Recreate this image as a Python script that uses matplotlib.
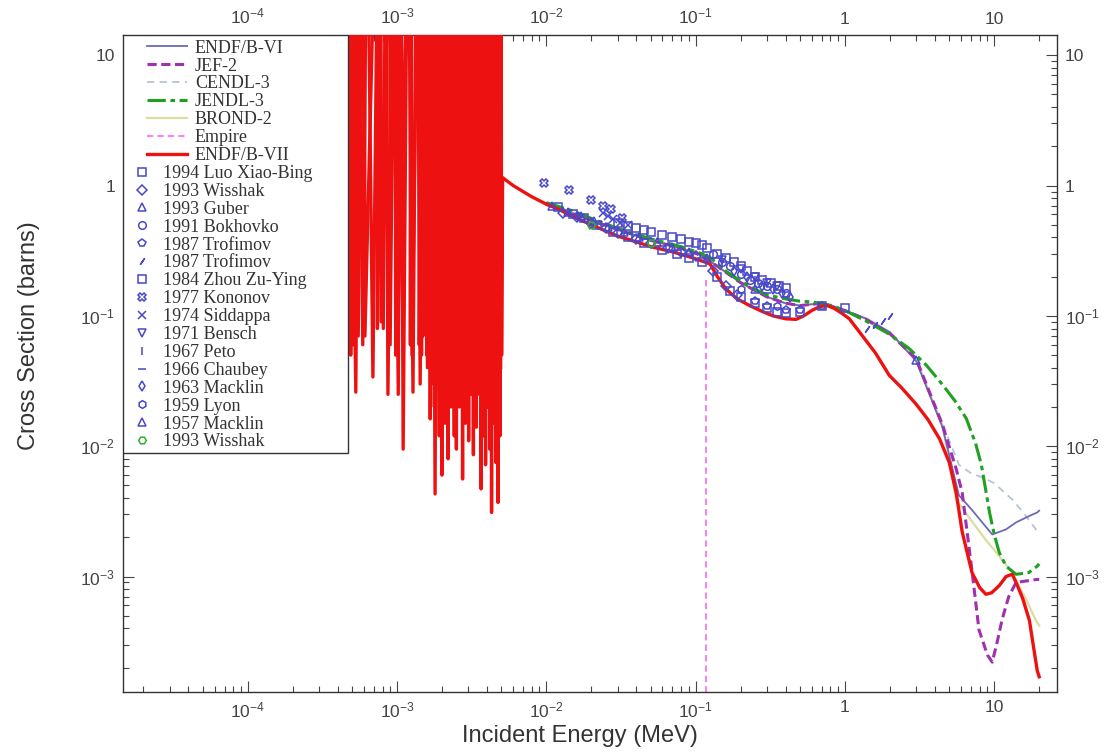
# libraries
import numpy as np
import matplotlib
matplotlib.use('Agg')
import matplotlib.pyplot as plt
from matplotlib.ticker import FixedLocator, LogLocator, FuncFormatter, NullFormatter
from matplotlib.patches import Rectangle

plt.rcParams['font.family'] = ['Liberation Sans', 'DejaVu Sans']
plt.rcParams['mathtext.fontset'] = 'custom'
plt.rcParams['mathtext.rm'] = 'Liberation Sans'
plt.rcParams['mathtext.it'] = 'Liberation Sans:italic'
plt.rcParams['mathtext.bf'] = 'Liberation Sans:bold'

# ---- evaluated data (MeV, barns) ----
# ENDF/B-VII resonance region: peak energies, following minimum energy and value
res_peak_E = [4.75e-4, 5.6e-4, 6.3e-4, 7.5e-4, 8.4e-4, 9.4e-4, 1.06e-3, 1.18e-3, 1.36e-3,
              1.52e-3, 1.64e-3, 1.72e-3, 1.86e-3, 1.96e-3, 2.05e-3, 2.15e-3, 2.25e-3,
              2.35e-3, 2.47e-3, 2.56e-3, 2.68e-3, 2.82e-3, 2.95e-3, 3.08e-3, 3.20e-3,
              3.32e-3, 3.46e-3, 3.58e-3, 3.74e-3, 3.86e-3, 3.98e-3, 4.12e-3, 4.24e-3,
              4.38e-3, 4.52e-3, 4.68e-3, 4.82e-3, 4.98e-3]
res_min_E = [5.3e-4, 5.9e-4, 6.9e-4, 8.1e-4, 8.7e-4, 1.02e-3, 1.10e-3, 1.28e-3, 1.43e-3,
             1.60e-3, 1.67e-3, 1.80e-3, 1.92e-3, 2.00e-3, 2.10e-3, 2.20e-3, 2.30e-3,
             2.42e-3, 2.50e-3, 2.62e-3, 2.75e-3, 2.88e-3, 3.02e-3, 3.15e-3, 3.25e-3,
             3.40e-3, 3.52e-3, 3.66e-3, 3.80e-3, 3.92e-3, 4.05e-3, 4.18e-3, 4.30e-3,
             4.45e-3, 4.60e-3, 4.75e-3, 4.90e-3, 5.02e-3]
res_min_xs = [0.026, 0.060, 0.034, 0.080, 0.025, 0.025, 0.0095, 0.026, 0.030,
              0.040, 0.0162, 0.0043, 0.012, 0.0060, 0.015, 0.0080, 0.020,
              0.012, 0.0095, 0.020, 0.0056, 0.015, 0.011, 0.025, 0.0086,
              0.014, 0.030, 0.0047, 0.012, 0.0072, 0.020, 0.0095, 0.0031,
              0.015, 0.0075, 0.0037, 0.012, 0.050]
# weaker resonances lying between the ones above
res2_peak_E = [4.85e-4, 5.05e-4, 5.45e-4, 6.05e-4, 7.3e-4, 7.8e-4, 8.95e-4, 9.7e-4,
               1.0e-3, 1.22e-3, 1.25e-3, 1.40e-3, 1.45e-3, 1.48e-3,
               1.56e-3, 1.69e-3, 1.77e-3, 1.83e-3, 1.89e-3, 2.02e-3, 2.12e-3, 2.18e-3,
               2.28e-3, 2.32e-3, 2.39e-3, 2.44e-3, 2.52e-3, 2.59e-3, 2.64e-3, 2.72e-3,
               2.78e-3, 2.85e-3, 2.91e-3, 2.99e-3, 3.05e-3, 3.12e-3, 3.17e-3, 3.23e-3,
               3.28e-3, 3.36e-3, 3.43e-3, 3.50e-3, 3.55e-3, 3.62e-3, 3.70e-3, 3.77e-3,
               3.83e-3, 3.89e-3, 3.95e-3, 4.02e-3, 4.08e-3, 4.15e-3, 4.21e-3, 4.27e-3,
               4.34e-3, 4.41e-3, 4.48e-3, 4.56e-3, 4.64e-3, 4.71e-3, 4.79e-3, 4.86e-3,
               4.94e-3]
res2_min_E = [4.9e-4, 5.1e-4, 5.5e-4, 6.1e-4, 7.4e-4, 7.85e-4, 9.0e-4, 9.8e-4,
              1.01e-3, 1.23e-3, 1.26e-3, 1.41e-3, 1.46e-3, 1.49e-3,
              1.58e-3, 1.70e-3, 1.78e-3, 1.84e-3, 1.90e-3, 2.03e-3, 2.13e-3, 2.19e-3,
              2.29e-3, 2.33e-3, 2.40e-3, 2.45e-3, 2.53e-3, 2.60e-3, 2.65e-3, 2.73e-3,
              2.79e-3, 2.86e-3, 2.92e-3, 3.00e-3, 3.06e-3, 3.13e-3, 3.18e-3, 3.24e-3,
              3.29e-3, 3.37e-3, 3.44e-3, 3.51e-3, 3.56e-3, 3.63e-3, 3.71e-3, 3.78e-3,
              3.84e-3, 3.90e-3, 3.96e-3, 4.03e-3, 4.09e-3, 4.16e-3, 4.22e-3, 4.28e-3,
              4.35e-3, 4.42e-3, 4.49e-3, 4.57e-3, 4.65e-3, 4.72e-3, 4.80e-3, 4.87e-3,
              4.95e-3]
res2_min_xs = [0.05, 0.06, 0.07, 0.07, 0.08, 0.09, 0.06, 0.05,
               0.07, 0.06, 0.05, 0.06, 0.05, 0.07,
               0.05, 0.03, 0.02, 0.04, 0.03, 0.04, 0.05, 0.03, 0.04, 0.025, 0.05, 0.03,
               0.04, 0.05, 0.03, 0.045, 0.03, 0.05, 0.035, 0.05, 0.04, 0.03, 0.05, 0.035,
               0.04, 0.03, 0.05, 0.04, 0.025, 0.05, 0.035, 0.05, 0.03, 0.04, 0.05, 0.03,
               0.045, 0.04, 0.05, 0.03, 0.04, 0.05, 0.03, 0.04, 0.05, 0.035, 0.045, 0.03,
               0.04]
res_top = 300.0  # resonance peaks are far off scale

e7_E = [5.1e-3, 6e-3, 8e-3, 0.01, 0.012, 0.015, 0.02, 0.03, 0.04, 0.05, 0.07, 0.09, 0.11,
        0.125, 0.14, 0.16, 0.19, 0.23, 0.28, 0.33, 0.4, 0.47, 0.53, 0.6, 0.68, 0.76, 0.85,
        0.95, 1.07, 1.2, 1.39, 1.6, 1.98, 2.4, 3.0, 3.6, 4.3, 5.0, 5.56, 6.1, 7.1, 8.0, 8.8,
        9.6, 10.8, 12.0, 13.2, 14.0, 15.5, 17.2, 19.4, 20.0]
e7_xs = [1.15, 1.0, 0.82, 0.72, 0.66, 0.58, 0.50, 0.41, 0.37, 0.34, 0.31, 0.285, 0.264,
         0.25, 0.20, 0.16, 0.135, 0.12, 0.108, 0.10, 0.095, 0.094, 0.10, 0.11, 0.118, 0.12,
         0.114, 0.105, 0.095, 0.08, 0.064, 0.052, 0.035, 0.028, 0.021, 0.016, 0.0114, 0.0075,
         0.0044, 0.0022, 0.00107, 0.00082, 0.00073, 0.00075, 0.00085, 0.0010, 0.00104,
         0.0009, 0.00068, 0.00046, 0.00019, 0.00017]

jendl_E = [0.01, 0.015, 0.02, 0.03, 0.05, 0.08, 0.11, 0.13, 0.16, 0.2, 0.25, 0.3, 0.4, 0.49,
           0.6, 0.82, 1.0, 1.39, 2.0, 2.7, 3.5, 4.5, 5.5, 6.5, 7.5, 8.2, 8.8, 9.3, 10.0, 10.8,
           12.0, 14.0, 17.0, 19.4, 20.0]
jendl_xs = [0.74, 0.64, 0.56, 0.47, 0.39, 0.34, 0.30, 0.27, 0.22, 0.185, 0.16, 0.145, 0.135,
            0.13, 0.128, 0.12, 0.11, 0.091, 0.072, 0.056, 0.042, 0.0297, 0.022, 0.0163,
            0.0105, 0.0072, 0.0045, 0.0031, 0.0021, 0.00153, 0.0012, 0.00104, 0.00107,
            0.0012, 0.00125]

endf6_E = [0.01, 0.02, 0.03, 0.05, 0.08, 0.11, 0.14, 0.2, 0.3, 0.4, 0.5, 0.7, 1.0, 1.4, 2.0,
           3.0, 4.5, 5.8, 7.0, 9.7, 12.0, 14.0, 17.0, 19.4, 20.0]
endf6_xs = [0.72, 0.54, 0.46, 0.38, 0.33, 0.29, 0.24, 0.18, 0.14, 0.125, 0.12, 0.125, 0.11,
            0.095, 0.075, 0.045, 0.0140, 0.0042, 0.0033, 0.0021, 0.0023, 0.0026, 0.0029,
            0.0031, 0.0032]

jef2_E = [0.01, 0.02, 0.03, 0.05, 0.08, 0.11, 0.14, 0.2, 0.3, 0.4, 0.5, 0.7, 1.0, 1.4, 2.0,
          3.0, 4.5, 5.56, 6.1, 7.1, 7.9, 9.0, 9.7, 10.5, 11.3, 12.5, 14.0, 17.0, 19.4, 20.0]
jef2_xs = [0.72, 0.54, 0.46, 0.38, 0.33, 0.29, 0.24, 0.18, 0.14, 0.125, 0.12, 0.125, 0.11,
           0.093, 0.073, 0.047, 0.0146, 0.0067, 0.0044, 0.0011, 0.00039, 0.00025, 0.00022,
           0.00032, 0.00047, 0.0007, 0.0009, 0.00093, 0.00095, 0.00095]

cendl_E = [0.01, 0.02, 0.03, 0.05, 0.08, 0.11, 0.14, 0.2, 0.3, 0.4, 0.5, 0.7, 1.0, 1.4, 2.0,
           3.0, 4.5, 5.8, 7.0, 8.8, 10.0, 13.2, 16.0, 19.0, 20.0]
cendl_xs = [0.72, 0.54, 0.46, 0.38, 0.33, 0.29, 0.24, 0.18, 0.14, 0.125, 0.12, 0.125, 0.11,
            0.095, 0.075, 0.046, 0.0150, 0.0072, 0.0062, 0.0056, 0.0052, 0.0039, 0.0030,
            0.0023, 0.0021]

brond_E = [0.01, 0.02, 0.03, 0.05, 0.08, 0.11, 0.14, 0.2, 0.3, 0.4, 0.5, 0.7, 1.0, 1.4, 2.0,
           3.0, 4.5, 5.56, 7.0, 8.8, 10.0, 13.2, 16.0, 19.0, 20.0]
brond_xs = [0.72, 0.54, 0.46, 0.38, 0.33, 0.29, 0.24, 0.18, 0.14, 0.125, 0.12, 0.125, 0.11,
            0.094, 0.074, 0.046, 0.0146, 0.0039, 0.0027, 0.0019, 0.0016, 0.00107, 0.0007,
            0.00046, 0.00042]

empire_E = [0.118, 0.118]
empire_xs = [0.19, 1e-6]

# ---- experimental data ----
luo_E = [0.012, 0.015, 0.018, 0.022, 0.028, 0.035, 0.045, 0.06, 0.075, 0.09, 0.11, 0.14,
         0.17, 0.2, 0.25, 0.3, 0.35, 0.4, 0.5, 0.7, 1.0]
luo_xs = [0.68, 0.60, 0.56, 0.50, 0.44, 0.40, 0.36, 0.32, 0.30, 0.28, 0.26, 0.20, 0.155,
          0.14, 0.125, 0.115, 0.108, 0.105, 0.108, 0.12, 0.115]
wiss_E = [0.013, 0.016, 0.02, 0.025, 0.03, 0.04, 0.05, 0.065, 0.08, 0.1, 0.13, 0.16, 0.19]
wiss_xs = [0.62, 0.57, 0.52, 0.47, 0.43, 0.39, 0.36, 0.33, 0.31, 0.29, 0.22, 0.17, 0.145]
guber_E = [0.011, 0.014, 0.017, 0.021, 0.026, 0.033, 0.042, 0.055, 0.07, 0.09, 0.12]
guber_xs = [0.70, 0.63, 0.58, 0.53, 0.48, 0.44, 0.40, 0.37, 0.34, 0.31, 0.28]
bokh_E = [0.13, 0.15, 0.17, 0.2, 0.23, 0.26, 0.3, 0.35, 0.4]
bokh_xs = [0.30, 0.26, 0.24, 0.21, 0.19, 0.18, 0.17, 0.16, 0.15]
trof1_E = [0.25, 0.3, 0.4, 0.5, 0.7]
trof1_xs = [0.13, 0.12, 0.11, 0.11, 0.12]
trof2_E = [1.4, 1.6, 1.8, 2.0]
trof2_xs = [0.079, 0.085, 0.092, 0.10]
zhou_E = [0.03, 0.035, 0.04, 0.045, 0.05, 0.06, 0.07, 0.08, 0.09, 0.1, 0.11, 0.12, 0.14,
          0.16, 0.18, 0.2, 0.22, 0.25, 0.28, 0.32, 0.36, 0.4]
zhou_xs = [0.52, 0.49, 0.47, 0.46, 0.44, 0.42, 0.40, 0.39, 0.37, 0.36, 0.35, 0.33, 0.30,
           0.28, 0.26, 0.24, 0.22, 0.20, 0.19, 0.18, 0.17, 0.165]
kono_E = [0.0097, 0.0143, 0.02, 0.024, 0.027, 0.032]
kono_xs = [1.05, 0.93, 0.78, 0.70, 0.66, 0.56]
sidd_E = [0.024, 0.026, 0.028, 0.031, 0.035]
sidd_xs = [0.62, 0.58, 0.55, 0.52, 0.50]
bensch_E = [0.15, 0.2, 0.25, 0.3, 0.35]
bensch_xs = [0.27, 0.23, 0.20, 0.18, 0.17]
peto_E = [0.15, 0.25]
peto_xs = [0.25, 0.19]
chau_E = [0.3, 0.4]
chau_xs = [0.15, 0.14]
mack63_E = [0.18, 0.22, 0.28, 0.33, 0.38, 0.43]
mack63_xs = [0.22, 0.20, 0.17, 0.16, 0.15, 0.14]
lyon_E = [0.2, 0.35]
lyon_xs = [0.16, 0.12]
mack57_E = [0.25, 3.0]
mack57_xs = [0.16, 0.046]
wiss2_E = [0.02, 0.05]
wiss2_xs = [0.50, 0.36]

# ---- figure ----
fig = plt.figure(figsize=(11.08, 7.56), dpi=100)
ax = fig.add_axes([0.1113, 0.0847, 0.8424, 0.869])
ax.set_xscale('log')
ax.set_yscale('log')

# ENDF/B-VII: resonances followed by the smooth part
res_x, res_y = [], []
for pe, me, mv in zip(res_peak_E, res_min_E, res_min_xs):
    res_x += [pe, me]
    res_y += [res_top, mv]
res2_x, res2_y = [], []
for pe, me, mv in zip(res2_peak_E, res2_min_E, res2_min_xs):
    res2_x += [pe, me]
    res2_y += [res_top, mv]

h_endf6, = ax.plot(endf6_E, endf6_xs, color='#6a6ab8', lw=1.3, label='ENDF/B-VI', zorder=3)
h_cendl, = ax.plot(cendl_E, cendl_xs, color='#b8c2d6', lw=1.3, ls=(0, (4, 3)), label='CENDL-3', zorder=2)
h_brond, = ax.plot(brond_E, brond_xs, color='#dcdca0', lw=1.6, label='BROND-2', zorder=2)
h_jef2, = ax.plot(jef2_E, jef2_xs, color='#a030b0', lw=2.2, ls=(0, (3, 1.5)), label='JEF-2', zorder=3)
h_jendl, = ax.plot(jendl_E, jendl_xs, color='#20a020', lw=2.2, ls=(0, (6, 1.5, 1.5, 1.5)), label='JENDL-3', zorder=3)
h_emp, = ax.plot(empire_E, empire_xs, color='#ee88ee', lw=1.5, ls=(0, (3, 2)), label='Empire', zorder=2)
ax.plot(res2_x, res2_y, color='#ee1111', lw=2.4, zorder=4)
h_e7, = ax.plot(res_x + e7_E, res_y + e7_xs, color='#ee1111', lw=2.4, label='ENDF/B-VII', zorder=4)

mc = '#4848c8'
exp_sets = [
    (luo_E, luo_xs, 's', '1994 Luo Xiao-Bing', mc),
    (wiss_E, wiss_xs, 'D', '1993 Wisshak', mc),
    (guber_E, guber_xs, '^', '1993 Guber', mc),
    (bokh_E, bokh_xs, 'o', '1991 Bokhovko', mc),
    (trof1_E, trof1_xs, 'p', '1987 Trofimov', mc),
    (trof2_E, trof2_xs, (2, 2, -35), '1987 Trofimov', mc),
    (zhou_E, zhou_xs, 's', '1984 Zhou Zu-Ying', mc),
    (kono_E, kono_xs, 'X', '1977 Kononov', mc),
    (sidd_E, sidd_xs, 'x', '1974 Siddappa', mc),
    (bensch_E, bensch_xs, 'v', '1971 Bensch', mc),
    (peto_E, peto_xs, '|', '1967 Peto', mc),
    (chau_E, chau_xs, '_', '1966 Chaubey', mc),
    (mack63_E, mack63_xs, 'd', '1963 Macklin', mc),
    (lyon_E, lyon_xs, 'h', '1959 Lyon', mc),
    (mack57_E, mack57_xs, '^', '1957 Macklin', mc),
    (wiss2_E, wiss2_xs, 'H', '1993 Wisshak', '#30b030'),
]
exp_handles = []
for ex, ey, mk, lab, col in exp_sets:
    h, = ax.plot(ex, ey, ls='none', marker=mk, ms=5.5, mfc='none', mec=col, mew=1.1,
                 label=lab, zorder=5)
    exp_handles.append(h)

ax.set_xlim(1.47e-5, 26.2)
ax.set_ylim(1.3e-4, 14.3)


def log_fmt(v, pos):
    e = int(round(np.log10(v)))
    if e == 0:
        return '1'
    if e == 1:
        return '10'
    return r'$10^{%d}$' % e


ax.xaxis.set_major_locator(FixedLocator([1e-4, 1e-3, 1e-2, 1e-1, 1, 10]))
ax.yaxis.set_major_locator(FixedLocator([1e-3, 1e-2, 1e-1, 1, 10]))
for axis in (ax.xaxis, ax.yaxis):
    axis.set_minor_locator(LogLocator(base=10, subs=np.arange(2, 10), numticks=100))
    axis.set_major_formatter(FuncFormatter(log_fmt))
    axis.set_minor_formatter(NullFormatter())

ax.tick_params(which='both', direction='in', top=True, right=True,
               labeltop=True, labelright=True, colors='#444444', labelsize=12.5)
ax.tick_params(which='major', length=8, width=0.8, pad=6)
ax.tick_params(which='minor', length=4, width=0.8)
for s in ax.spines.values():
    s.set_color('#333333')
    s.set_linewidth(1.0)

ax.set_xlabel('Incident Energy (MeV)', fontsize=17, color='#333333')
ax.set_ylabel('Cross Section (barns)', fontsize=17, color='#333333')
ax.xaxis.set_label_coords(0.489, -0.051)
ax.yaxis.set_label_coords(-0.089, 0.542)

# legend: frame box, line entries on top, experiment entries below
frame = Rectangle((0, 0.3638), 0.2407, 0.6362, transform=ax.transAxes, facecolor='white',
                  edgecolor='#333333', lw=1.0, zorder=6)
ax.add_patch(frame)

lfont = {'family': 'Liberation Serif', 'size': 13}
leg1 = ax.legend(handles=[h_endf6, h_jef2, h_cendl, h_jendl, h_brond, h_emp, h_e7],
                 loc='upper left', bbox_to_anchor=(0.0254, 0.993), prop=lfont, frameon=False,
                 borderpad=0, borderaxespad=0, handlelength=2.2, handletextpad=0.45,
                 labelspacing=0.05)
ax.add_artist(leg1)
leg1.set_zorder(7)
for t in leg1.get_texts():
    t.set_color('#333333')

fig.canvas.draw()
bb1 = leg1.get_window_extent()
y_next = ax.transAxes.inverted().transform((0, bb1.y0 - 0.9))[1]
leg2 = ax.legend(handles=exp_handles, loc='upper left', bbox_to_anchor=(0.0108, y_next),
                 prop=lfont, frameon=False, borderpad=0, borderaxespad=0, handlelength=0.9,
                 handletextpad=0.75, labelspacing=0.05)
leg2.set_zorder(7)
for t in leg2.get_texts():
    t.set_color('#333333')

fig.savefig('out.png', dpi=100)
